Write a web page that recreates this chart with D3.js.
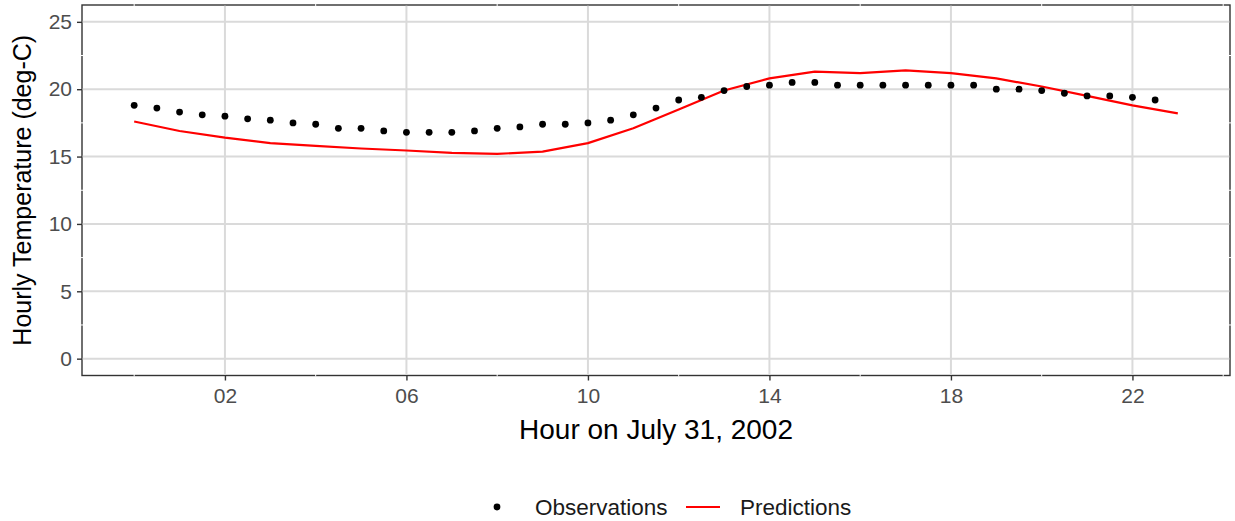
<!DOCTYPE html>
<html>
<head>
<meta charset="utf-8">
<script src="https://cdn.jsdelivr.net/npm/d3@7"></script>
<style>
  html, body { margin: 0; padding: 0; background: #fff; }
  svg { display: block; font-family: "Liberation Sans", Arial, sans-serif; }
</style>
</head>
<body>
<svg id="chart" width="1235" height="521"></svg>
<script>
// ---- data ----
const obsHours = [0, 0.5, 1, 1.5, 2, 2.5, 3, 3.5, 4, 4.5, 5, 5.5, 6, 6.5, 7, 7.5, 8, 8.5, 9, 9.5,
  10, 10.5, 11, 11.5, 12, 12.5, 13, 13.5, 14, 14.5, 15, 15.5, 16, 16.5, 17, 17.5, 18, 18.5, 19, 19.5,
  20, 20.5, 21, 21.5, 22, 22.5];
const obsTemps = [18.8, 18.6, 18.3, 18.1, 18.0, 17.8, 17.7, 17.5, 17.4, 17.1, 17.1, 16.9, 16.8, 16.8, 16.8, 16.9,
  17.1, 17.2, 17.4, 17.4, 17.5, 17.7, 18.1, 18.6, 19.2, 19.4, 19.9, 20.2, 20.3, 20.5, 20.5, 20.3,
  20.3, 20.3, 20.3, 20.3, 20.3, 20.3, 20.0, 20.0, 19.9, 19.7, 19.5, 19.5, 19.4, 19.2];
const predHours = [0, 1, 2, 3, 4, 5, 6, 7, 8, 9, 10, 11, 12, 13, 14, 15, 16, 17, 18, 19, 20, 21, 22, 23];
const predTemps = [17.6, 16.9, 16.4, 16.0, 15.8, 15.6, 15.45, 15.27, 15.2, 15.37, 16.0, 17.1, 18.5, 19.9,
  20.8, 21.3, 21.2, 21.4, 21.2, 20.8, 20.2, 19.5, 18.8, 18.2];
const xTicks = [2, 6, 10, 14, 18, 22];
const xMinor = [0, 4, 8, 12, 16, 20, 24];
const yTicks = [0, 5, 10, 15, 20, 25];
const yMinor = [2.5, 7.5, 12.5, 17.5, 22.5];
const xTitle = "Hour on July 31, 2002";
const yTitle = "Hourly Temperature (deg-C)";
const legendLabels = ["Observations", "Predictions"];

// ---- layout ----
const svg = d3.select("#chart");
const P = { left: 82, right: 1230, top: 5, bottom: 375.5 };

const xExp = (23 - 0) * 0.05;
const x = d3.scaleLinear().domain([0 - xExp, 23 + xExp]).range([P.left, P.right]);
const y = d3.scaleLinear().domain([-1.25, 26.25]).range([P.bottom, P.top]);

const g = svg.append("g");

// panel border
g.append("rect")
  .attr("x", P.left).attr("y", P.top)
  .attr("width", P.right - P.left).attr("height", P.bottom - P.top)
  .attr("fill", "#fff").attr("stroke", "#333333").attr("stroke-width", 1.4);

// minor grid (white)
g.selectAll(".xminor").data(xMinor).join("line")
  .attr("x1", d => x(d)).attr("x2", d => x(d))
  .attr("y1", P.top - 1).attr("y2", P.bottom + 1)
  .attr("stroke", "#fff").attr("stroke-width", 1);
g.selectAll(".yminor").data(yMinor).join("line")
  .attr("y1", d => y(d)).attr("y2", d => y(d))
  .attr("x1", P.left - 1).attr("x2", P.right + 1)
  .attr("stroke", "#fff").attr("stroke-width", 1);

// major grid
g.selectAll(".xmajor").data(xTicks).join("line")
  .attr("x1", d => x(d)).attr("x2", d => x(d))
  .attr("y1", P.top + 0.7).attr("y2", P.bottom - 0.7)
  .attr("stroke", "#dadada").attr("stroke-width", 2);
g.selectAll(".ymajor").data(yTicks).join("line")
  .attr("y1", d => y(d)).attr("y2", d => y(d))
  .attr("x1", P.left + 0.7).attr("x2", P.right - 0.7)
  .attr("stroke", "#dadada").attr("stroke-width", 2);

// axes
const xAxis = d3.axisBottom(x).tickValues(xTicks).tickFormat(d3.format("02d"))
  .tickSize(5).tickPadding(8);
const yAxis = d3.axisLeft(y).tickValues(yTicks).tickFormat(d3.format("d"))
  .tickSize(5).tickPadding(5);

const gx = svg.append("g").attr("transform", `translate(0,${P.bottom})`).call(xAxis);
const gy = svg.append("g").attr("transform", `translate(${P.left},0)`).call(yAxis);
[gx, gy].forEach(a => {
  a.select(".domain").remove();
  a.selectAll(".tick line").attr("stroke", "#333333").attr("stroke-width", 1.4);
  a.selectAll(".tick text").attr("fill", "#4d4d4d")
    .style("font-family", "'Liberation Sans', Arial, sans-serif").style("font-size", "21px");
});

// data: predictions line
const line = d3.line().x((d, i) => x(predHours[i])).y(d => y(d));
g.append("path").datum(predTemps)
  .attr("d", line).attr("fill", "none")
  .attr("stroke", "#ff0000").attr("stroke-width", 2.2).attr("stroke-linejoin", "round");

// data: observations
g.selectAll(".obs").data(obsTemps).join("circle")
  .attr("cx", (d, i) => x(obsHours[i])).attr("cy", d => y(d))
  .attr("r", 3.4).attr("fill", "#000");

// titles
svg.append("text").attr("x", (P.left + P.right) / 2).attr("y", 439)
  .attr("text-anchor", "middle").attr("font-size", 28).attr("fill", "#000").text(xTitle);
svg.append("text")
  .attr("transform", `translate(31,${(P.top + P.bottom) / 2}) rotate(-90)`)
  .attr("text-anchor", "middle").attr("font-size", 25).attr("fill", "#000").text(yTitle);

// legend
const lg = svg.append("g");
lg.append("circle").attr("cx", 497).attr("cy", 507).attr("r", 3.4).attr("fill", "#000");
lg.append("text").attr("x", 535).attr("y", 515).attr("font-size", 22.5).attr("fill", "#1a1a1a").text(legendLabels[0]);
lg.append("line").attr("x1", 686).attr("x2", 720).attr("y1", 507).attr("y2", 507)
  .attr("stroke", "#ff0000").attr("stroke-width", 2.2);
lg.append("text").attr("x", 740).attr("y", 515).attr("font-size", 22.5).attr("fill", "#1a1a1a").text(legendLabels[1]);
</script>
</body>
</html>
